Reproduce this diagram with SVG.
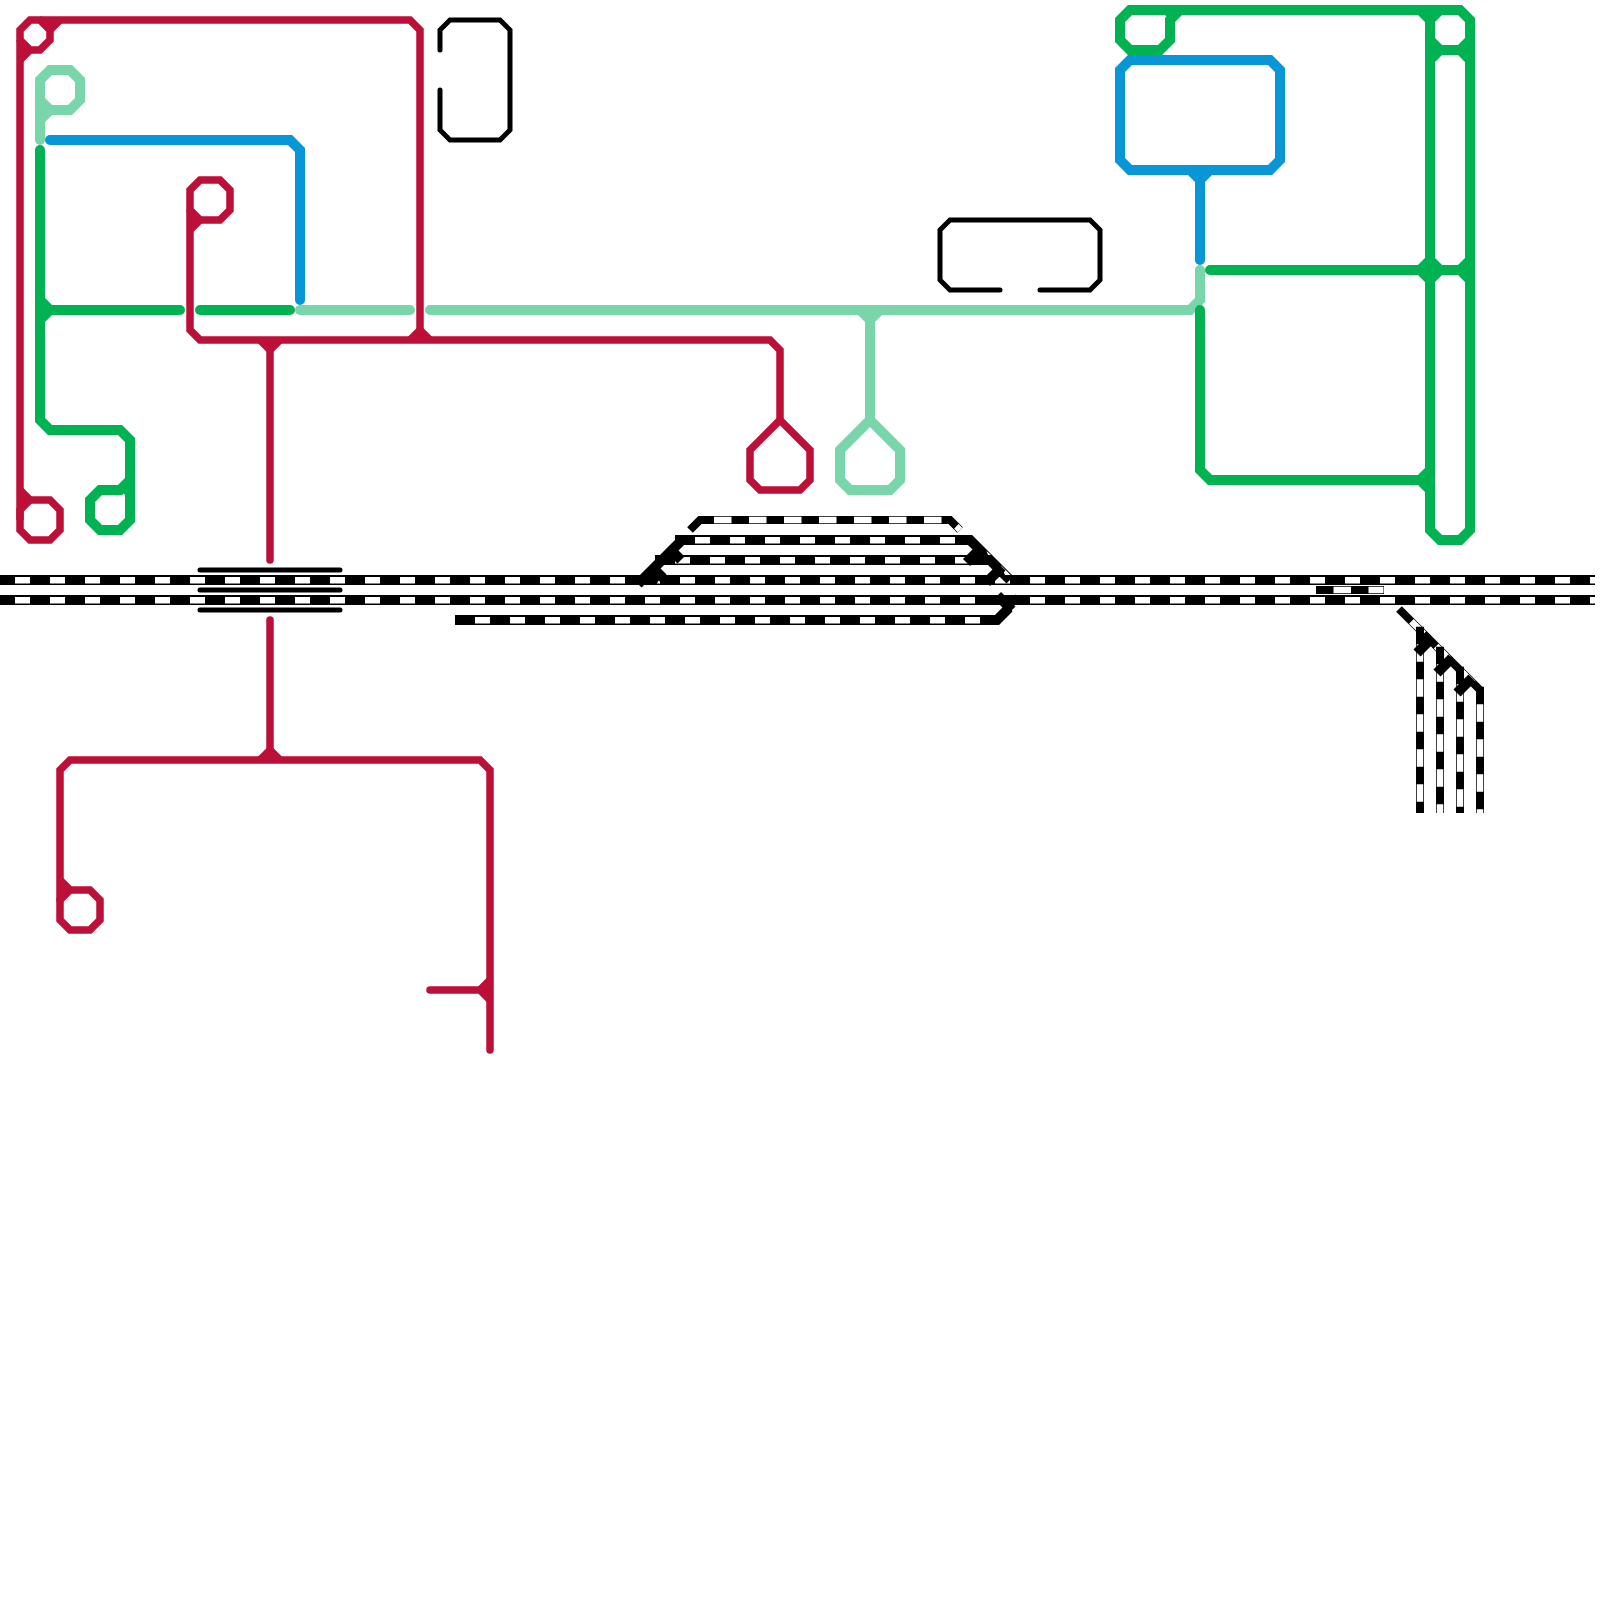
<svg xmlns="http://www.w3.org/2000/svg" width="1600" height="1600" viewBox="0 0 1600 1600">
<style>
path{fill:none;stroke-linejoin:miter;stroke-miterlimit:10}
polygon{stroke:none}
.r{stroke:#bd1038;stroke-width:7.5}
.lg{stroke:#79d6aa;stroke-width:10}
.g{stroke:#00b251;stroke-width:10}
.b{stroke:#0896d7;stroke-width:10}
.k{stroke:#000;stroke-width:5}
.cap{stroke-linecap:round}
.t{stroke:#000;stroke-width:10}
.tw{stroke:#fff;stroke-width:6.5;stroke-dasharray:15 20}
.n{stroke:#000;stroke-width:8}
.nw{stroke:#fff;stroke-width:6.5;stroke-dasharray:17.5 17.5}
.fr{fill:#bd1038}.flg{fill:#79d6aa}.fg{fill:#00b251}.fb{fill:#0896d7}.fw{fill:#fff}.fk{fill:#000}
</style>
<rect width="1600" height="1600" fill="#fff"/>
<g id="light-green-line">
<path class="lg" d="M50,70H70L80,80V100L70,110H50L40,100V80Z"/>
<path class="lg cap" d="M40,100V140"/>
<path class="lg" d="M50,110L40,120"/>
<polygon class="flg" points="40,100 50,110 40,120"/>
<path class="lg cap" d="M300,310H410"/>
<path class="lg cap" d="M430,310H1190L1200,300V270"/>
<path class="lg" d="M860,310L870,320L880,310"/>
<polygon class="flg" points="860,310 880,310 870,320"/>
<path class="lg" d="M870,315V420L840,450V480L850,490H890L900,480V450L870,420"/>
</g>
<g id="green-line">
<path class="g cap" d="M40,150V420L50,430H120L130,440V520L120,530H100L90,520V500L100,490H120L130,480"/>
<path class="g cap" d="M200,310H290"/>
<path class="g cap" d="M180,310H50"/>
<path class="g" d="M40,300L50,310L40,320"/>
<polygon class="fg" points="40,300 50,310 40,320"/>
<polygon class="fg" points="120,490 130,480 130,500"/>
<path class="g" d="M1180,10L1170,20V40L1160,50H1130L1120,40V20L1130,10H1460L1470,20V530L1460,540H1440L1430,530V20L1420,10"/>
<path class="g" d="M1430,20L1440,10"/>
<polygon class="fg" points="1160,10 1180,10 1170,20"/>
<polygon class="fg" points="1420,10 1440,10 1430,20"/>
<path class="g" d="M1430,40L1440,50H1460L1470,40M1430,60L1440,50M1470,60L1460,50"/>
<polygon class="fg" points="1430,40 1440,50 1430,60"/>
<polygon class="fg" points="1470,40 1460,50 1470,60"/>
<path class="g cap" d="M1210,270H1420"/>
<path class="g" d="M1420,270H1460M1430,260L1420,270L1430,280M1430,260L1440,270L1430,280M1470,260L1460,270L1470,280"/>
<polygon class="fg" points="1430,260 1420,270 1430,280 1440,270"/>
<polygon class="fg" points="1470,260 1460,270 1470,280"/>
<path class="g cap" d="M1200,310V470L1210,480H1420L1430,470"/>
<path class="g" d="M1420,480L1430,490"/>
<polygon class="fg" points="1420,480 1430,470 1430,490"/>
</g>
<g id="blue-line">
<path class="b cap" d="M50,140H290L300,150V300"/>
<path class="b" d="M1130,60H1270L1280,70V160L1270,170H1130L1120,160V70Z"/>
<path class="b" d="M1190,170L1200,180L1210,170"/>
<polygon class="fb" points="1190,170 1210,170 1200,180"/>
<path class="b cap" d="M1200,175V260"/>
</g>
<g id="red-line">
<path class="r" d="M30,20H40L50,30V40L40,50H30L20,40V30Z"/>
<path class="r" d="M40,20H410L420,30V330"/>
<path class="r" d="M50,30L60,20M30,50L20,60"/>
<polygon class="fr" points="40,20 60,20 50,30"/>
<polygon class="fr" points="20,40 30,50 20,60"/>
<path class="r" d="M20,40V520"/>
<path class="r" d="M30,500H50L60,510V530L50,540H30L20,530V510Z"/>
<path class="r" d="M20,490L30,500"/>
<polygon class="fr" points="20,490 30,500 20,510"/>
<path class="r" d="M200,180H220L230,190V210L220,220H200L190,210V190Z"/>
<path class="r" d="M200,220L190,230"/>
<polygon class="fr" points="190,210 200,220 190,230"/>
<path class="r" d="M190,210V330L200,340H770L780,350V420"/>
<path class="r" d="M780,420L750,450V480L760,490H800L810,480V450Z"/>
<path class="r" d="M410,340L420,330L430,340"/>
<polygon class="fr" points="410,340 420,330 430,340"/>
<path class="r" d="M260,340L270,350L280,340"/>
<polygon class="fr" points="260,340 270,350 280,340"/>
<path class="r cap" d="M270,345V560"/>
<path class="r cap" d="M270,620V755"/>
<path class="r" d="M260,760L270,750L280,760"/>
<polygon class="fr" points="260,760 270,750 280,760"/>
<path class="r cap" d="M60,900V770L70,760H480L490,770V1050"/>
<path class="r" d="M70,890H90L100,900V920L90,930H70L60,920V900Z"/>
<path class="r" d="M60,880L70,890"/>
<polygon class="fr" points="60,880 70,890 60,900"/>
<path class="r cap" d="M430,990H480"/>
<path class="r" d="M480,990L490,980M480,990L490,1000"/>
<polygon class="fr" points="480,990 490,980 490,1000"/>
</g>
<g id="black-outlines">
<path class="k cap" d="M440,50V30L450,20H500L510,30V130L500,140H450L440,130V90"/>
<path class="k cap" d="M1000,290H950L940,280V230L950,220H1090L1100,230V280L1090,290H1040"/>
</g>
<g id="rail-tracks">
<path class="t" d="M455,620H997L1019,598"/>
<polygon class="fw" points="1019.6,605 1012.5,612 1010,605"/>
<path class="t" d="M0,580H1595M0,600H1595"/>
<path class="tw" d="M0,580H1595M0,600H1595" stroke-dashoffset="-15" transform="translate(0,.25)"/>
<path class="tw" d="M455,620H995" stroke-dashoffset="-20" transform="translate(0,.25)"/>
<polygon class="fk" points="990,595 1010,595 1010,605 990,605"/>
<path class="n" d="M690,530L700,520H950L960,530"/>
<path class="nw" d="M700,520H950L960,530" stroke-dashoffset="-14"/>
<path class="t" d="M675,540H970L1010,580"/>
<path class="tw" d="M675,540H970" stroke-dashoffset="-20" transform="translate(0,.25)"/>
<path class="t" d="M655,560H990"/>
<path class="tw" d="M655,560H970" stroke-dashoffset="-20" transform="translate(0,.25)"/>
<polygon class="fw" points="986.5,551 991,555 988,555"/>
<polygon class="fw" points="1000.6,565 1010.6,575 1005,575"/>
<path class="t" d="M638,584L682,540"/>
<polygon class="fk" points="640,575 662,575 656,585 640,585"/>
<path class="t" d="M653,568L663,578M671.5,550.5L681,560M966.5,562.5L982,547M986.5,582.5L1002,567M997.5,595.5L1012,610"/>
<path class="n" d="M1316,590H1384"/>
<path class="nw" d="M1316,590H1383.5" stroke-dashoffset="-17.5"/>
<path class="n" d="M1399,609L1480,690"/>
<path class="nw" d="M1399,609L1480,690" stroke-dashoffset="-17.5"/>
<path class="n" d="M1420,626.7V813M1440,646.7V813M1460,666.7V813M1480,686.7V813"/>
<path class="nw" d="M1420,626.7V813M1440,646.7V813M1460,666.7V813M1480,686.7V813" stroke-dashoffset="-17.5"/>
<path class="t" d="M1417,653L1432,638M1437,673L1452,658M1457,693L1472,678"/>
</g>
<g id="station-bars">
<path class="k cap" d="M200,570H340M200,590H340M200,610H340"/>
</g>
</svg>
